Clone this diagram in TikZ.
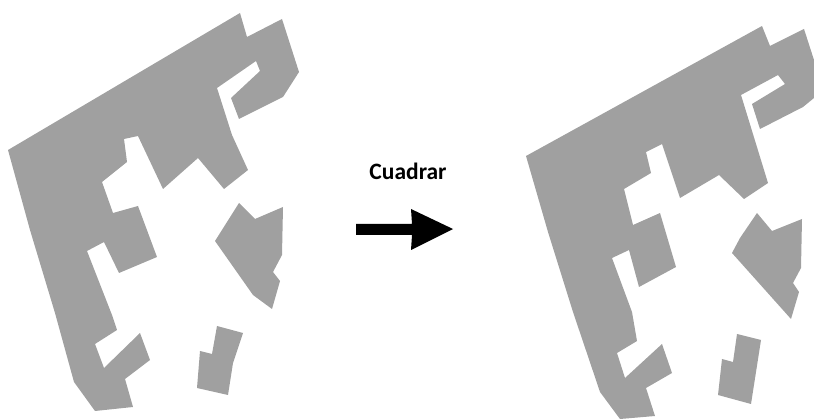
\documentclass[tikz,border=0pt]{standalone}
\usepackage{fontspec}
\setmainfont{Carlito}
\definecolor{plot}{HTML}{A0A0A0}
\tikzset{plotshape/.style={fill=plot,draw=none},arrowshape/.style={fill=black,draw=none}}
\begin{document}
\begin{tikzpicture}[x=1pt,y=-1pt]
\useasboundingbox (0,0) rectangle (814,419);
% left plan
\fill[plotshape] (240,13)--(247,37)--(282,19)--(299,72)--(283,97)--(239,119)--(231,98)--(260,71)--(256,61)--(217,88)--(232,135)--(248,170)--(224,189)--(198,158)--(163,189)--(138,136)--(124,139)--(127,162)--(102,182)--(113,213)--(138,206)--(157,257)--(119,273)--(104,242)--(87,251)--(112,315)--(117,330)--(95,344)--(104,368)--(140,333)--(150,360)--(125,379)--(133,407)--(95,411)--(74,382)--(55,313)--(30,230)--(8,150)--cycle;
\fill[plotshape] (239,203)--(255,219)--(283,207)--(282,255)--(273,272)--(280,281)--(272,309)--(253,295)--(215,241)--cycle;
\fill[plotshape] (217,326)--(243,333)--(233,363)--(228,395)--(197,388)--(200,351)--(212,354)--cycle;
% right plan
\fill[plotshape] (762,26)--(770,46)--(804,29)--(814,60)--(814,98)--(803,107)--(760,129)--(752,104)--(785,84)--(778,75)--(741,95)--(768,183)--(744,199)--(719,175)--(680,198)--(662,144)--(646,152)--(651,173)--(624,189)--(633,225)--(660,213)--(676,267)--(639,287)--(629,250)--(612,258)--(632,312)--(637,341)--(617,353)--(625,378)--(662,344)--(672,373)--(646,388)--(655,416)--(620,419)--(600,392)--(573,312)--(548,232)--(526,156)--cycle;
\fill[plotshape] (757,213)--(772,231)--(802,219)--(801,268)--(793,283)--(799,292)--(791,319)--(732,253)--(740,238)--cycle;
\fill[plotshape] (737,334)--(761,340)--(751,404)--(718,395)--(722,359)--(733,362)--cycle;
% arrow
\fill[arrowshape] (356,224)--(412,224)--(411,209)--(453,229)--(411,250)--(412,235)--(356,235)--cycle;
\node[font=\fontsize{23.5}{26}\selectfont\bfseries,inner sep=0pt] (label) at (408,171) {Cuadrar};
\end{tikzpicture}
\end{document}
